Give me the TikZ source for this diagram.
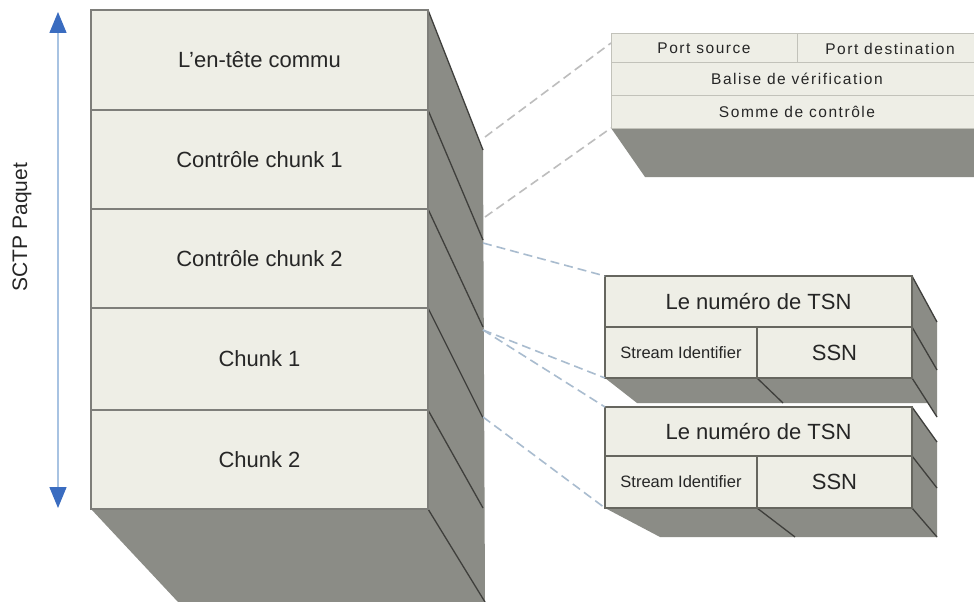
\documentclass[tikz,border=0pt]{standalone}
\usepackage{fontspec}
\setmainfont{Liberation Sans}
\newfontfamily\spacedfont[LetterSpace=10]{Liberation Sans}
\usetikzlibrary{arrows.meta}

\definecolor{facefill}{HTML}{EEEEE6}
\definecolor{sidefill}{HTML}{8B8C86}
\definecolor{edgedark}{HTML}{3F3F3C}
\definecolor{frontline}{HTML}{7E7E7A}
\definecolor{cellline}{HTML}{66665F}
\definecolor{hdrline}{HTML}{C2C2BA}
\definecolor{dashgray}{HTML}{BDBDBD}
\definecolor{dashblue}{HTML}{A9BCCF}
\definecolor{axisline}{HTML}{A8C3E2}
\definecolor{axishead}{HTML}{3A6CC0}
\definecolor{txt}{HTML}{262626}

\tikzset{
  cell/.style={draw=frontline, line width=1.4pt, fill=facefill, inner sep=0pt,
    outer sep=0pt, text=txt, font=\fontsize{22}{26}\selectfont},
  mcell/.style={cell, draw=cellline, line width=1.2pt},
  scell/.style={mcell, font=\fontsize{16.5}{19}\selectfont},
  hcell/.style={draw=hdrline, line width=1pt, fill=facefill, inner sep=0pt,
    outer sep=0pt, text=txt, font=\spacedfont\fontsize{15.5}{18}\selectfont},
  side/.style={fill=sidefill},
  ridge/.style={draw=edgedark, line width=1.3pt},
  link/.style={dash pattern=on 9pt off 5pt, line width=1.6pt},
  axis/.style={draw=axisline, line width=1.4pt,
    {Triangle[length=21pt,width=17pt,color=axishead]}-{Triangle[length=21pt,width=17pt,color=axishead]}},
}

\begin{document}
\begin{tikzpicture}[x=1pt,y=-1pt]
\clip (0,0) rectangle (974,602);
\fill[white] (0,0) rectangle (974,602);

% ---- packet height axis ----
\coordinate (axtop) at (58,12);
\coordinate (axbot) at (58,508);
\draw[axis] (axbot) -- (axtop);
\node[rotate=90, text=txt, font=\fontsize{21}{25}\selectfont] (lbl) at (22,227) {SCTP Paquet};

% ---- SCTP packet block: bottom and right faces ----
\fill[side] (91,509) -- (428,509) -- (428,10) -- (483,150) -- (485,602) -- (178,602) -- cycle;
\draw[ridge] (428,10) -- (483,150);
\draw[ridge] (428,110) -- (483,240);
\draw[ridge] (428,209) -- (483,327);
\draw[ridge] (428,308) -- (483,418);
\draw[ridge] (428,410) -- (483,508);
\draw[ridge] (428,509) -- (485,602);

% ---- SCTP packet block: front face ----
\node[cell, minimum width=337pt, minimum height=100pt] (hdr)  at (259.5,60)    {L’en-tête commu};
\node[cell, minimum width=337pt, minimum height=99pt]  (ctl1) at (259.5,159.5) {Contrôle chunk 1};
\node[cell, minimum width=337pt, minimum height=99pt]  (ctl2) at (259.5,258.5) {Contrôle chunk 2};
\node[cell, minimum width=337pt, minimum height=102pt] (dat1) at (259.5,359)   {Chunk 1};
\node[cell, minimum width=337pt, minimum height=99pt]  (dat2) at (259.5,459.5) {Chunk 2};

% ---- attachment points on the packet's side ----
\coordinate (s1) at (485,137);
\coordinate (s2) at (485,217);
\coordinate (s3) at (483,243);
\coordinate (s4) at (483,330);
\coordinate (s5) at (483,417);
\coordinate (hdrin) at (611,43);

% ---- common header detail ----
\fill[side] (611,128) -- (645,177) -- (983,177) -- (983,128) -- cycle;
\node[hcell, minimum width=186pt, minimum height=29pt] (psrc) at (704,48.5) {Port source};
\node[hcell, minimum width=186pt, minimum height=29pt] (pdst) at (890,48.5) {Port destination};
\node[hcell, minimum width=372pt, minimum height=32pt] (vtag) at (797,79)    {Balise de vérification};
\node[hcell, minimum width=372pt, minimum height=33pt] (csum) at (797,111.5) {Somme de contrôle};

% ---- first data chunk detail ----
\fill[side] (605,378) -- (912,378) -- (928,403) -- (637,403) -- cycle;
\fill[side] (912,276) -- (937,322) -- (937,417) -- (912,378) -- cycle;
\draw[ridge] (912,276) -- (937,322);
\draw[ridge] (912,327) -- (937,370);
\draw[ridge] (912,378) -- (937,417);
\draw[ridge] (757,378) -- (783,403);
\node[mcell,  minimum width=307pt, minimum height=51pt] (tsnA) at (758.5,301.5) {Le numéro de TSN};
\node[scell,  minimum width=152pt, minimum height=51pt] (sidA) at (681,352.5)   {Stream Identifier};
\node[mcell,  minimum width=155pt, minimum height=51pt] (ssnA) at (834.5,352.5) {SSN};

% ---- second data chunk detail ----
\fill[side] (605,508) -- (912,508) -- (937,537) -- (660,537) -- cycle;
\fill[side] (912,407) -- (937,442) -- (937,537) -- (912,508) -- cycle;
\draw[ridge] (912,407) -- (937,442);
\draw[ridge] (912,456) -- (937,488);
\draw[ridge] (912,508) -- (937,537);
\draw[ridge] (757,508) -- (795,537);
\node[mcell,  minimum width=307pt, minimum height=49pt] (tsnB) at (758.5,431.5) {Le numéro de TSN};
\node[scell,  minimum width=152pt, minimum height=52pt] (sidB) at (681,482)     {Stream Identifier};
\node[mcell,  minimum width=155pt, minimum height=52pt] (ssnB) at (834.5,482)   {SSN};

% ---- dashed expansion lines ----
\draw[link, dashgray] (s1) -- (hdrin);
\draw[link, dashgray] (s2) -- (csum.south west);
\draw[link, dashblue] (s3) -- (tsnA.north west);
\draw[link, dashblue] (s4) -- (sidA.south west);
\draw[link, dashblue] (s4) -- (tsnB.north west);
\draw[link, dashblue] (s5) -- (sidB.south west);
\end{tikzpicture}
\end{document}
